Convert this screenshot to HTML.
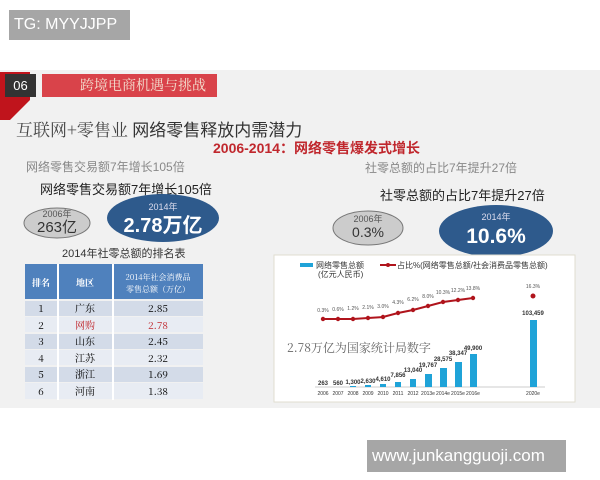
<!DOCTYPE html>
<html><head><meta charset="utf-8"><style>
body{margin:0;width:600px;height:480px;background:#fff;position:relative;overflow:hidden;font-family:"Liberation Sans","Noto Sans CJK SC",sans-serif}
.a{position:absolute;white-space:nowrap}
</style></head><body>
<div class="a" style="left:9px;top:10px;width:121px;height:30px;background:#a6a6a6;color:#fff;font-size:16px;line-height:30px;padding-left:5px;box-sizing:border-box">TG: MYYJJPP</div>
<div class="a" style="left:0;top:70px;width:600px;height:338px;background:#f1f1f1"></div>
<svg class="a" style="left:0;top:70px" width="40" height="55"><polygon points="0,2 30,2 30,30 10,50 0,50" fill="#c0141c"/></svg>
<div class="a" style="left:5px;top:74px;width:31px;height:23px;background:#333;color:#fff;font-size:13px;line-height:23px;text-align:center">06</div>
<div class="a" style="left:42px;top:74px;width:175px;height:23px;background:#d9434a;color:#f3e0d0;font-size:14px;line-height:23px;padding-left:38px;box-sizing:border-box;font-family:'Noto Serif CJK SC',serif">跨境电商机遇与挑战</div>
<div class="a" style="left:16px;top:116px;font-size:17px;color:#444;font-family:'Noto Serif CJK SC',serif">互联网+零售业 <span style="font-family:'Noto Sans CJK SC',sans-serif;color:#333">网络零售释放内需潜力</span></div>
<div class="a" style="left:213px;top:138px;font-size:14px;font-weight:bold;color:#c0272d">2006-2014：网络零售爆发式增长</div>
<div class="a" style="left:26px;top:158px;font-size:12px;color:#888">网络零售交易额7年增长105倍</div>
<div class="a" style="left:40px;top:179px;font-size:13px;color:#222">网络零售交易额7年增长105倍</div>
<svg class="a" style="left:0;top:190px" width="240" height="60">
<ellipse cx="57" cy="33" rx="33" ry="15" fill="#ccc" stroke="#777"/>
<text x="57" y="27" font-size="9" fill="#555" text-anchor="middle">2006年</text>
<text x="57" y="42" font-size="15" fill="#333" text-anchor="middle">263亿</text>
<ellipse cx="163" cy="28" rx="56" ry="24" fill="#2e5a8c"/>
<text x="163" y="20" font-size="9" fill="#dde" text-anchor="middle">2014年</text>
<text x="163" y="42" font-size="20" font-weight="bold" fill="#fff" text-anchor="middle">2.78万亿</text>
</svg>
<div class="a" style="left:62px;top:245px;font-size:11px;color:#333">2014年社零总额的排名表</div>
<svg class="a" style="left:25px;top:264px" width="178" height="136" font-family="Noto Serif CJK SC,serif">
<rect width="178" height="35" fill="#4f81bd"/>
<text x="16" y="22" font-size="9" fill="#fff" text-anchor="middle" font-weight="bold">排名</text>
<text x="60" y="22" font-size="9" fill="#fff" text-anchor="middle" font-weight="bold">地区</text>
<text x="133" y="16" font-size="8" fill="#fff" text-anchor="middle">2014年社会消费品</text>
<text x="133" y="28" font-size="8" fill="#fff" text-anchor="middle">零售总额（万亿）</text>
<g font-size="10">
<rect y="37" width="178" height="15" fill="#d3dbe8"/><text x="16" y="48" text-anchor="middle">1</text><text x="60" y="48" text-anchor="middle">广东</text><text x="133" y="48" text-anchor="middle">2.85</text>
<rect y="53" width="178" height="15" fill="#e8ecf3"/><text x="16" y="65" text-anchor="middle">2</text><text x="60" y="65" text-anchor="middle" fill="#c0272d">网购</text><text x="133" y="65" text-anchor="middle" fill="#c0272d">2.78</text>
<rect y="70" width="178" height="15" fill="#d3dbe8"/><text x="16" y="81" text-anchor="middle">3</text><text x="60" y="81" text-anchor="middle">山东</text><text x="133" y="81" text-anchor="middle">2.45</text>
<rect y="86" width="178" height="15" fill="#e8ecf3"/><text x="16" y="98" text-anchor="middle">4</text><text x="60" y="98" text-anchor="middle">江苏</text><text x="133" y="98" text-anchor="middle">2.32</text>
<rect y="103" width="178" height="15" fill="#d3dbe8"/><text x="16" y="114" text-anchor="middle">5</text><text x="60" y="114" text-anchor="middle">浙江</text><text x="133" y="114" text-anchor="middle">1.69</text>
<rect y="119" width="178" height="16" fill="#e8ecf3"/><text x="16" y="131" text-anchor="middle">6</text><text x="60" y="131" text-anchor="middle">河南</text><text x="133" y="131" text-anchor="middle">1.38</text>
</g>
<line x1="33" y1="0" x2="33" y2="136" stroke="#fff" stroke-width="2"/><line x1="88" y1="0" x2="88" y2="136" stroke="#fff" stroke-width="2"/>
</svg>
<div class="a" style="left:365px;top:159px;font-size:12px;color:#888">社零总额的占比7年提升27倍</div>
<div class="a" style="left:380px;top:185px;font-size:13px;color:#222">社零总额的占比7年提升27倍</div>
<svg class="a" style="left:270px;top:200px" width="330" height="210">
<ellipse cx="98" cy="28" rx="35" ry="17" fill="#ccc" stroke="#777"/>
<text x="98" y="22" font-size="9" fill="#555" text-anchor="middle">2006年</text>
<text x="98" y="37" font-size="14" fill="#333" text-anchor="middle">0.3%</text>
<ellipse cx="226" cy="31" rx="57" ry="26" fill="#2e5a8c"/>
<text x="226" y="20" font-size="9" fill="#dde" text-anchor="middle">2014年</text>
<text x="226" y="43" font-size="21" font-weight="bold" fill="#fff" text-anchor="middle">10.6%</text>
<rect x="4" y="55" width="301" height="147" fill="#fff" stroke="#e0ddd0"/>
<rect x="30" y="63" width="13" height="4" fill="#1fa3d8"/>
<text x="46" y="68" font-size="8" fill="#333">网络零售总额</text>
<text x="48" y="77" font-size="8" fill="#333">(亿元人民币)</text>
<line x1="110" y1="65" x2="126" y2="65" stroke="#b0141c" stroke-width="2"/><circle cx="118" cy="65" r="2" fill="#b0141c"/>
<text x="127" y="68" font-size="8" fill="#333">占比%(网络零售总额/社会消费品零售总额)</text>
<polyline points="53,119 68,119 83,119 98,118 113,117 128,113 143,110 158,106 173,102 188,100 203,98" fill="none" stroke="#b0141c" stroke-width="2"/>
<g fill="#b0141c"><circle cx="53" cy="119" r="2.2"/><circle cx="68" cy="119" r="2.2"/><circle cx="83" cy="119" r="2.2"/><circle cx="98" cy="118" r="2.2"/><circle cx="113" cy="117" r="2.2"/><circle cx="128" cy="113" r="2.2"/><circle cx="143" cy="110" r="2.2"/><circle cx="158" cy="106" r="2.2"/><circle cx="173" cy="102" r="2.2"/><circle cx="188" cy="100" r="2.2"/><circle cx="203" cy="98" r="2.2"/><circle cx="263" cy="96" r="2.5"/></g>
<g font-size="5" fill="#555" text-anchor="middle"><text x="53" y="112">0.3%</text><text x="68" y="111">0.6%</text><text x="83" y="110">1.2%</text><text x="98" y="109">2.1%</text><text x="113" y="108">3.0%</text><text x="128" y="104">4.3%</text><text x="143" y="101">6.2%</text><text x="158" y="98">8.0%</text><text x="173" y="94">10.3%</text><text x="188" y="92">12.2%</text><text x="203" y="90">13.8%</text><text x="263" y="88">16.3%</text></g>
<text x="17" y="152" font-size="12" fill="#666" font-family="Noto Serif CJK SC,serif">2.78万亿为国家统计局数字</text>
<line x1="45" y1="187" x2="275" y2="187" stroke="#ccc"/>
<g fill="#1fa3d8"><rect x="80" y="186" width="6" height="1"/><rect x="95" y="185" width="6" height="2"/><rect x="110" y="184" width="6" height="3"/><rect x="125" y="182" width="6" height="5"/><rect x="140" y="179" width="6" height="8"/><rect x="155" y="174" width="7" height="13"/><rect x="170" y="168" width="7" height="19"/><rect x="185" y="162" width="7" height="25"/><rect x="200" y="154" width="7" height="33"/><rect x="260" y="120" width="7" height="67"/></g>
<g font-size="6" fill="#333" text-anchor="middle" font-weight="bold"><text x="53" y="185">263</text><text x="68" y="185">560</text><text x="83" y="184">1,300</text><text x="98" y="183">2,630</text><text x="113" y="181">4,610</text><text x="128" y="177">7,856</text><text x="143" y="172">13,040</text><text x="158" y="167">19,767</text><text x="173" y="161">28,575</text><text x="188" y="155">38,347</text><text x="203" y="150">49,900</text><text x="263" y="115">103,459</text></g>
<g font-size="5" fill="#333" text-anchor="middle"><text x="53" y="195">2006</text><text x="68" y="195">2007</text><text x="83" y="195">2008</text><text x="98" y="195">2009</text><text x="113" y="195">2010</text><text x="128" y="195">2011</text><text x="143" y="195">2012</text><text x="158" y="195">2013e</text><text x="173" y="195">2014e</text><text x="188" y="195">2015e</text><text x="203" y="195">2016e</text><text x="263" y="195">2020e</text></g>
</svg>
<div class="a" style="left:367px;top:440px;width:199px;height:32px;background:#a6a6a6;color:#fff;font-size:17px;line-height:32px;padding-left:5px;box-sizing:border-box">www.junkangguoji.com</div>
</body></html>
